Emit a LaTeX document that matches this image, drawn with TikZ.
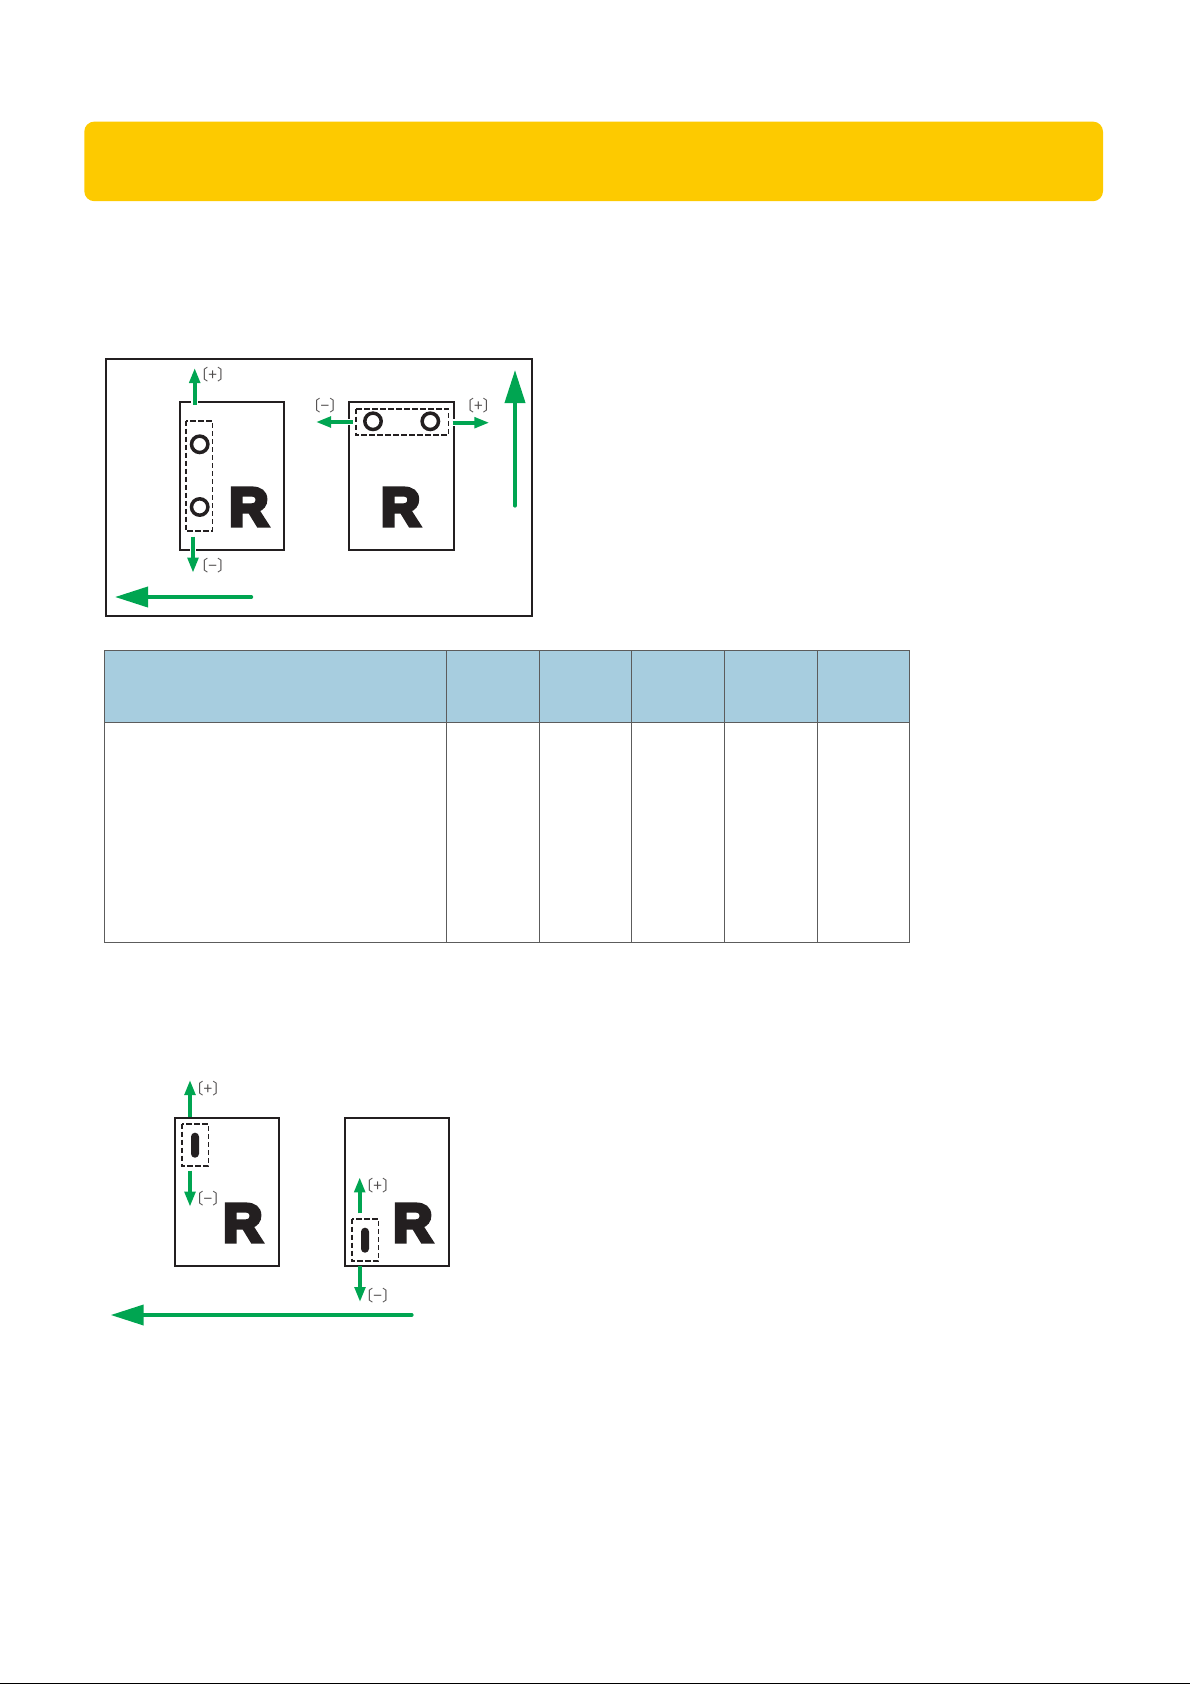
\documentclass[tikz,border=0pt]{standalone}
\usepackage{fontspec}
\usetikzlibrary{arrows.meta}
\setmainfont{Liberation Sans}
\newfontfamily\cjkf{Noto Sans CJK JP}
\font\rfont="Liberation Sans/B:embolden=7.5" at 54pt
\definecolor{gold}{HTML}{FDCA00}
\definecolor{headblue}{HTML}{A7CDDF}
\definecolor{arrowgreen}{HTML}{00A551}
\definecolor{ink}{HTML}{231F20}
\definecolor{rule}{HTML}{5C5C5C}
\tikzset{
  x=1pt,y=-1pt,
  sheet/.style={draw=ink,line width=1.8pt,fill=white},
  frameb/.style={draw=ink,line width=2pt},
  dashbox/.style={draw=ink,line width=1.6pt,dash pattern=on 5.2pt off 2.8pt},
  hole/.style={draw=ink,line width=3.5pt,fill=white},
  slot/.style={fill=ink,rounded corners=3.9pt},
  small/.style={draw=arrowgreen,line width=3.6pt,-{Triangle[length=15pt,width=10.5pt]}},
  halo/.style={draw=white,line width=6.5pt,shorten >=18pt},
  large/.style={draw=arrowgreen,line width=3.8pt,line cap=round,-{Triangle[length=33pt,width=20pt]}},
  letter/.style={inner sep=0pt,text=ink,font=\rfont},
  sign/.style={inner sep=0pt,text=ink!80,font=\cjkf\fontsize{15.5}{15.5}\selectfont},
  cell/.style={draw=rule,line width=1.2pt},
}
\begin{document}
\begin{tikzpicture}
\useasboundingbox (0,0) rectangle (1190,1684);
% banner
\fill[gold,rounded corners=10pt] (84.3,121.6) rectangle (1103,201.2);
% upper frame
\draw[frameb] (105.7,359) rectangle (532,616);
\draw[sheet] (179.7,401.7) rectangle (284,550);
\draw[sheet] (348.7,401.7) rectangle (454.3,550);
\draw[dashbox] (185.7,420.7) rectangle (212.3,531);
\draw[dashbox] (355.7,408.7) rectangle (448.3,435);
\draw[hole] (199.7,444.3) circle (8.2);
\draw[hole] (199.7,507) circle (8.2);
\draw[hole] (373,421.3) circle (8.2);
\draw[hole] (430.3,421.3) circle (8.2);
\node[letter] (ra) at (248.8,507) {R};
\node[letter] (rb) at (400.6,507) {R};
\coordinate (a1s) at (194.7,405); \coordinate (a1e) at (194.7,368);
\coordinate (a2s) at (193,536.7); \coordinate (a2e) at (193,572.7);
\coordinate (a3s) at (352.7,422); \coordinate (a3e) at (316,422);
\coordinate (a4s) at (452.7,422.7); \coordinate (a4e) at (489.3,422.7);
\coordinate (a5s) at (515,505.7); \coordinate (a5e) at (515,370);
\coordinate (a6s) at (251.3,597); \coordinate (a6e) at (115,597);
\draw[halo] (a1s) -- (a1e);
\draw[halo] (a2s) -- (a2e);
\draw[halo] (a3s) -- (a3e);
\draw[halo] (a4s) -- (a4e);
\draw[small] (a1s) -- (a1e);
\draw[small] (a2s) -- (a2e);
\draw[small] (a3s) -- (a3e);
\draw[small] (a4s) -- (a4e);
\draw[large] (a5s) -- (a5e);
\draw[large] (a6s) -- (a6e);
\node[sign] (s1) at (212.7,375) {〔+〕};
\node[sign] (s2) at (212.7,566) {〔−〕};
\node[sign] (s3) at (325,406) {〔−〕};
\node[sign] (s4) at (478.3,406) {〔+〕};
% table
\fill[headblue] (104.6,650.3) rectangle (909.4,722.3);
\draw[cell] (104.6,650.3) rectangle (909.4,942.3);
\draw[cell] (104.6,722.3) -- (909.4,722.3);
\draw[rule,line width=0.7pt] (446.2,650.3) -- (446.2,942.3);
\draw[cell] (539.4,650.3) -- (539.4,942.3);
\draw[cell] (631.8,650.3) -- (631.8,942.3);
\draw[cell] (724.4,650.3) -- (724.4,942.3);
\draw[cell] (817.6,650.3) -- (817.6,942.3);
% lower figure
\draw[sheet] (175,1118) rectangle (279.3,1266);
\draw[sheet] (345,1118) rectangle (449.3,1266);
\draw[dashbox] (181.7,1123.7) rectangle (208.3,1166);
\draw[dashbox] (351.7,1218.7) rectangle (378.3,1261);
\fill[slot] (191,1132.7) rectangle (199,1157.7);
\fill[slot] (361,1227.7) rectangle (369,1252.7);
\node[letter] (rc) at (242.8,1223) {R};
\node[letter] (rd) at (412.8,1223) {R};
\coordinate (b1s) at (190,1117); \coordinate (b1e) at (190,1080);
\coordinate (b2s) at (190,1170.7); \coordinate (b2e) at (190,1206.7);
\coordinate (b3s) at (359.7,1213.3); \coordinate (b3e) at (359.7,1177.3);
\coordinate (b4s) at (360,1266); \coordinate (b4e) at (360,1302);
\coordinate (b5s) at (411.7,1315); \coordinate (b5e) at (110.7,1315);
\draw[small] (b1s) -- (b1e);
\draw[small] (b2s) -- (b2e);
\draw[small] (b3s) -- (b3e);
\draw[small] (b4s) -- (b4e);
\draw[large] (b5s) -- (b5e);
\node[sign] (s5) at (208,1088.3) {〔+〕};
\node[sign] (s6) at (208,1198.3) {〔−〕};
\node[sign] (s7) at (377.7,1185.3) {〔+〕};
\node[sign] (s8) at (377.7,1296) {〔−〕};
% page foot
\fill[black] (0,1682.6) rectangle (1190,1684);
\end{tikzpicture}
\end{document}
